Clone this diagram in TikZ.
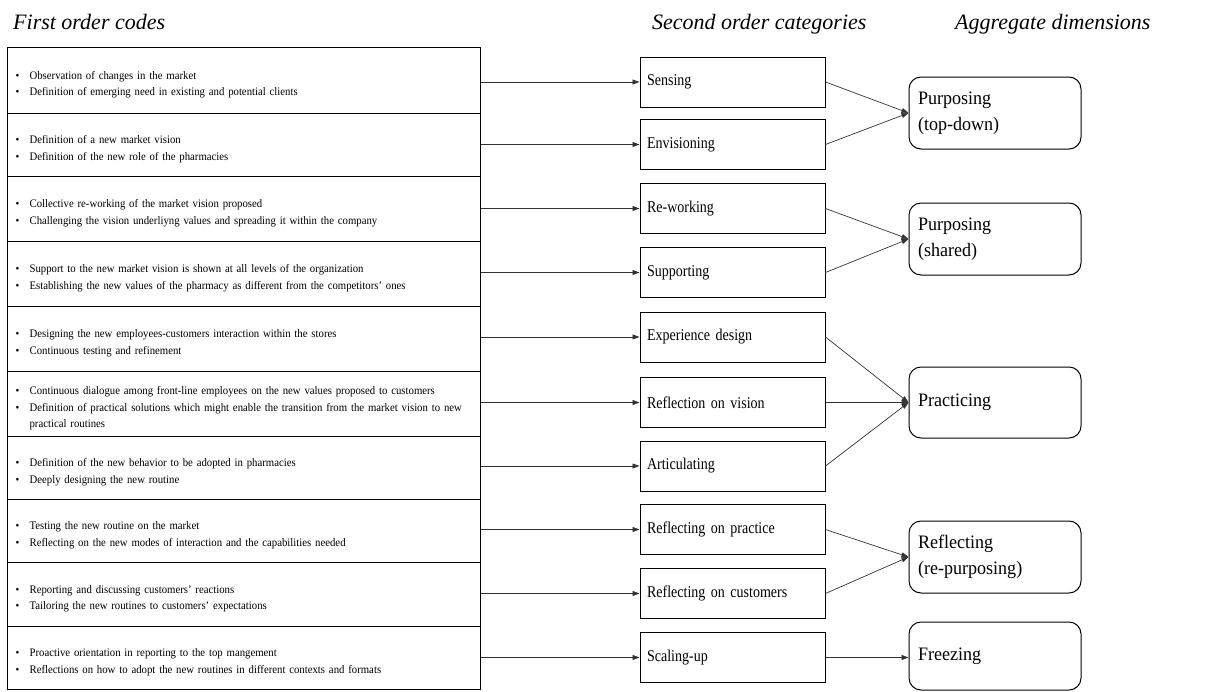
\documentclass[tikz,border=0pt]{standalone}
\usepackage{fontspec}
\setmainfont{Liberation Serif}
\newfontfamily\leftfont{Liberation Serif}[FakeStretch=0.935,WordSpace=0.9]
\newfontfamily\midfont{Liberation Serif}[FakeStretch=0.85,WordSpace=0.8]
\newfontfamily\rightfont{Liberation Serif}[FakeStretch=0.95]
\usetikzlibrary{arrows.meta}
\newcommand{\bitem}[1]{\par\hangindent=14pt\hangafter=1\noindent\makebox[14pt][l]{\textbullet}#1\par}
\begin{document}
\begin{tikzpicture}[x=1pt,y=-1pt,
  codebox/.style={draw,line width=1.2pt,anchor=north west,minimum width=473pt,
    text width=457pt,inner xsep=8pt,inner ysep=0pt,align=left,
    font=\leftfont\fontsize{11.5}{16.5}\selectfont},
  catbox/.style={draw,line width=1pt,minimum width=185pt,minimum height=50pt,
    text width=171pt,inner xsep=7pt,align=left,
    font=\midfont\fontsize{16.5}{20}\selectfont},
  dimbox/.style={draw,line width=1pt,rounded corners=12pt,minimum width=172pt,
    text width=154pt,inner xsep=9pt,align=left,
    font=\rightfont\fontsize{19}{26}\selectfont},
  heading/.style={anchor=base west,inner sep=0pt,font=\itshape\fontsize{22}{26}\selectfont},
  arr/.style={draw=black!80,line width=0.7pt,-{Triangle[length=7pt,width=5pt]}}
]
\useasboundingbox (0,0) rectangle (1207,691);

\node[heading] (h1) at (13,29) {First order codes};
\node[heading] (h2) at (652,29) {Second order categories};
\node[heading] (h3) at (955,29) {Aggregate dimensions};

% first order codes
\node[codebox,minimum height=66pt] (l1) at (7,47) {\bitem{Observation of changes in the market}\bitem{Definition of emerging need in existing and potential clients}};
\node[codebox,minimum height=63pt] (l2) at (7,113) {\bitem{Definition of a new market vision}\bitem{Definition of the new role of the pharmacies}};
\node[codebox,minimum height=65pt] (l3) at (7,176) {\bitem{Collective re-working of the market vision proposed}\bitem{Challenging the vision underliyng values and spreading it within the company}};
\node[codebox,minimum height=65pt] (l4) at (7,241) {\bitem{Support to the new market vision is shown at all levels of the organization}\bitem{Establishing the new values of the pharmacy as different from the competitors’ ones}};
\node[codebox,minimum height=65pt] (l5) at (7,306) {\bitem{Designing the new employees-customers interaction within the stores}\bitem{Continuous testing and refinement}};
\node[codebox,minimum height=65pt] (l6) at (7,371) {\bitem{Continuous dialogue among front-line employees on the new values proposed to customers}\bitem{Definition of practical solutions which might enable the transition from the market vision to new practical routines}};
\node[codebox,minimum height=63pt] (l7) at (7,436) {\bitem{Definition of the new behavior to be adopted in pharmacies}\bitem{Deeply designing the new routine}};
\node[codebox,minimum height=63pt] (l8) at (7,499) {\bitem{Testing the new routine on the market}\bitem{Reflecting on the new modes of interaction and the capabilities needed}};
\node[codebox,minimum height=64pt] (l9) at (7,562) {\bitem{Reporting and discussing customers’ reactions}\bitem{Tailoring the new routines to customers’ expectations}};
\node[codebox,minimum height=63pt] (l10) at (7,626) {\bitem{Proactive orientation in reporting to the top mangement}\bitem{Reflections on how to adopt the new routines in different contexts and formats}};

% second order categories
\node[catbox] (m1) at (732.5,82) {Sensing};
\node[catbox] (m2) at (732.5,144.5) {Envisioning};
\node[catbox] (m3) at (732.5,208.5) {Re-working};
\node[catbox] (m4) at (732.5,272.5) {Supporting};
\node[catbox] (m5) at (732.5,337) {Experience design};
\node[catbox] (m6) at (732.5,402.5) {Reflection on vision};
\node[catbox] (m7) at (732.5,466) {Articulating};
\node[catbox] (m8) at (732.5,529.5) {Reflecting on practice};
\node[catbox] (m9) at (732.5,593.5) {Reflecting on customers};
\node[catbox] (m10) at (732.5,657.5) {Scaling-up};

% aggregate dimensions
\node[dimbox,minimum height=72pt] (r1) at (995,113) {Purposing\\(top-down)};
\node[dimbox,minimum height=72pt] (r2) at (995,239) {Purposing\\(shared)};
\node[dimbox,minimum height=71pt] (r3) at (995,402.5) {Practicing};
\node[dimbox,minimum height=72pt] (r4) at (995,557) {Reflecting\\(re-purposing)};
\node[dimbox,minimum height=68pt] (r5) at (995,656) {Freezing};

% connectors first -> second
\foreach \i in {1,...,10}{
  \draw[arr] (l\i.east |- m\i.west) -- (m\i.west);
}
% second -> aggregate
\draw[arr] (m1.east) -- (r1.west);
\draw[arr] (m2.east) -- (r1.west);
\draw[arr] (m3.east) -- (r2.west);
\draw[arr] (m4.east) -- (r2.west);
\draw[arr] (m5.east) -- (r3.west);
\draw[arr] (m6.east) -- (r3.west);
\draw[arr] (m7.east) -- (r3.west);
\draw[arr] (m8.east) -- (r4.west);
\draw[arr] (m9.east) -- (r4.west);
\draw[arr] (m10.east) -- (m10.east -| r5.west);
\end{tikzpicture}
\end{document}
